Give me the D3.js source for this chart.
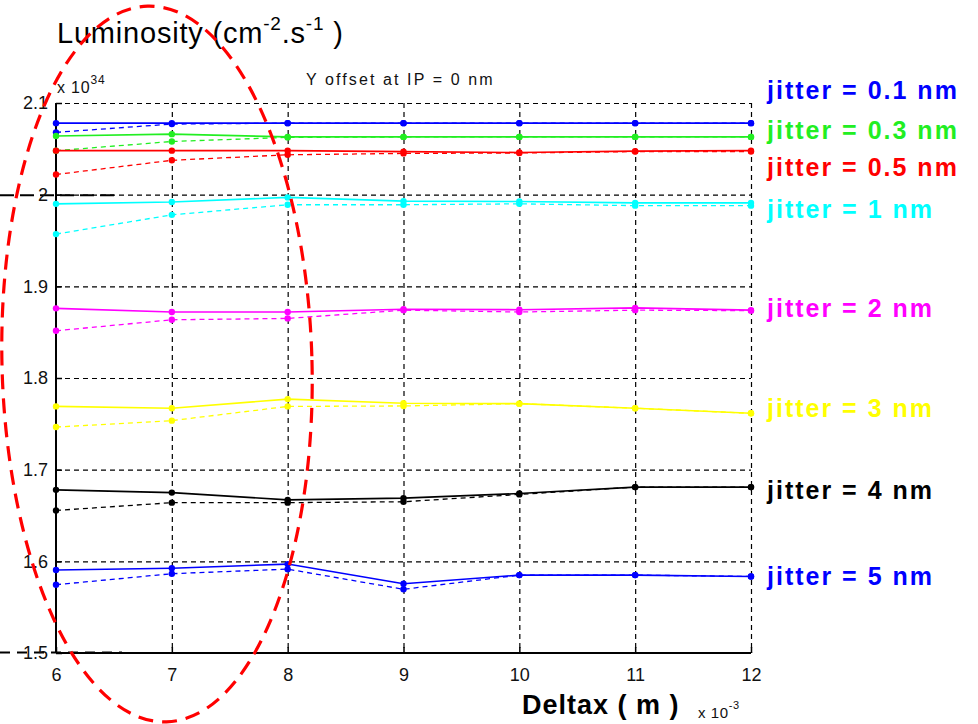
<!DOCTYPE html>
<html><head><meta charset="utf-8">
<script src="https://cdn.jsdelivr.net/npm/d3@7"></script>
<style>body{margin:0;background:#fff}svg{display:block}</style>
</head><body><svg id="c" width="978" height="724"></svg>
<script>
const deltax = [6, 7, 8, 9, 10, 11, 12];
const xTicks = [6, 7, 8, 9, 10, 11, 12];
const yTicks = [1.5, 1.6, 1.7, 1.8, 1.9, 2.0, 2.1];
const yTickLabels = ["1.5", "1.6", "1.7", "1.8", "1.9", "2", "2.1"];
const jitterLabels = ["jitter = 0.1 nm", "jitter = 0.3 nm", "jitter = 0.5 nm", "jitter = 1 nm", "jitter = 2 nm", "jitter = 3 nm", "jitter = 4 nm", "jitter = 5 nm"];
const colors = ["#0000ff", "#22ee22", "#ff0000", "#00ffff", "#ff00ff", "#ffff00", "#000000", "#0000ff"];
// solid lines
const solid = [
  [2.078, 2.078, 2.078, 2.078, 2.078, 2.078, 2.078],
  [2.064, 2.066, 2.063, 2.063, 2.063, 2.063, 2.063],
  [2.048, 2.048, 2.048, 2.047, 2.046, 2.0475, 2.048],
  [1.990, 1.992, 1.997, 1.993, 1.9925, 1.991, 1.991],
  [1.876, 1.872, 1.872, 1.875, 1.8745, 1.8765, 1.874],
  [1.769, 1.767, 1.777, 1.7725, 1.772, 1.767, 1.7615],
  [1.678, 1.675, 1.667, 1.669, 1.674, 1.681, 1.681],
  [1.5905, 1.5925, 1.597, 1.5755, 1.585, 1.585, 1.5835]
];
// dashed lines
const dashed = [
  [2.068, 2.077, 2.078, 2.078, 2.078, 2.078, 2.078],
  [2.048, 2.058, 2.0625, 2.063, 2.063, 2.063, 2.063],
  [2.022, 2.0375, 2.0435, 2.045, 2.0455, 2.047, 2.047],
  [1.957, 1.978, 1.989, 1.989, 1.990, 1.988, 1.988],
  [1.8515, 1.8635, 1.865, 1.874, 1.872, 1.874, 1.8735],
  [1.7465, 1.7535, 1.769, 1.7695, 1.772, 1.767, 1.7615],
  [1.6555, 1.664, 1.664, 1.665, 1.673, 1.681, 1.681],
  [1.5745, 1.5865, 1.5915, 1.5695, 1.585, 1.585, 1.5835]
];
// vertical anchor of each jitter label, in luminosity units
const labelValues = [2.114, 2.0706, 2.030, 1.9844, 1.8764, 1.7674, 1.678, 1.5842];

const svg = d3.select("#c");
const L = 56, R = 751, T = 103, B = 653;
const x = d3.scaleLinear().domain([6, 12]).range([L, R]);
const y = d3.scaleLinear().domain([1.5, 2.1]).range([B, T]);
const font = "'Liberation Sans', Arial, sans-serif";

// grid
const grid = svg.append("g").attr("stroke", "#000").attr("stroke-width", 1.2).attr("stroke-dasharray", "5,4");
grid.selectAll(".gx").data(xTicks.slice(1)).join("line")
  .attr("x1", d => x(d) + 0.5).attr("x2", d => x(d) + 0.5).attr("y1", T).attr("y2", B);
grid.selectAll(".gy").data(yTicks.slice(1)).join("line")
  .attr("x1", L).attr("x2", R).attr("y1", d => y(d) + 0.5).attr("y2", d => y(d) + 0.5);

// stray dashed marks at left
svg.append("line").attr("x1", 0).attr("x2", 117).attr("y1", y(2.0) + 0.5).attr("y2", y(2.0) + 0.5)
  .attr("stroke", "#000").attr("stroke-width", 2).attr("stroke-dasharray", "14,6");
svg.append("line").attr("x1", 0).attr("x2", 122).attr("y1", y(1.5) - 0.5).attr("y2", y(1.5) - 0.5)
  .attr("stroke", "#000").attr("stroke-width", 2).attr("stroke-dasharray", "10,7");

// axes
const xAxis = d3.axisBottom(x).tickValues(xTicks).tickSize(-6).tickPadding(15).tickFormat(d3.format("d"));
const gx = svg.append("g").attr("transform", `translate(0,${B})`).call(xAxis);
gx.select(".domain").attr("stroke-width", 2).attr("d", `M${L},0H${R}`);
gx.selectAll(".tick line").attr("stroke-width", 1.5);
gx.selectAll("text").attr("font-family", font).attr("font-size", 18).attr("fill", "#111");

const yAxis = d3.axisLeft(y).tickValues(yTicks).tickSize(-6).tickPadding(8).tickFormat((d, i) => yTickLabels[i]);
const gy = svg.append("g").attr("transform", `translate(${L},0)`).call(yAxis);
gy.select(".domain").attr("stroke-width", 2).attr("d", `M0,${B}V${T}`);
gy.selectAll(".tick line").attr("stroke-width", 1.5);
gy.selectAll("text").attr("font-family", font).attr("font-size", 18).attr("fill", "#111");

// series
const line = d3.line().x((d, i) => x(deltax[i])).y(d => y(d));
colors.forEach((c, k) => {
  const g = svg.append("g");
  g.append("path").datum(dashed[k]).attr("d", line).attr("fill", "none")
    .attr("stroke", c).attr("stroke-width", 1.3).attr("stroke-dasharray", "5,4");
  g.append("path").datum(solid[k]).attr("d", line).attr("fill", "none")
    .attr("stroke", c).attr("stroke-width", 1.6);
  g.selectAll(".ds").data(dashed[k]).join("circle")
    .attr("cx", (d, i) => x(deltax[i])).attr("cy", d => y(d)).attr("r", 3.2).attr("fill", c);
  g.selectAll(".ss").data(solid[k]).join("circle")
    .attr("cx", (d, i) => x(deltax[i])).attr("cy", d => y(d)).attr("r", 3.2).attr("fill", c);
});

// legend labels
svg.selectAll(".lab").data(jitterLabels).join("text")
  .attr("x", 767).attr("y", (d, i) => y(labelValues[i]))
  .attr("dy", "0.35em")
  .attr("font-family", font).attr("font-weight", "bold").attr("font-size", 25)
  .attr("letter-spacing", 2)
  .attr("fill", (d, i) => colors[i]).text(d => d);

// title
const t = svg.append("text").attr("x", 57).attr("y", 43).attr("font-family", font).attr("font-size", 29)
  .attr("letter-spacing", 0.8).attr("fill", "#000");
t.append("tspan").text("Luminosity (cm");
t.append("tspan").attr("dy", -13).attr("font-size", 19).text("-2");
t.append("tspan").attr("dy", 13).text(".s");
t.append("tspan").attr("dy", -13).attr("font-size", 19).text("-1");
t.append("tspan").attr("dy", 13).text(" )");

const s = svg.append("text").attr("x", 57).attr("y", 93).attr("font-family", font).attr("font-size", 16).attr("letter-spacing", 0.8).attr("fill", "#111");
s.append("tspan").text("x 10");
s.append("tspan").attr("dy", -9).attr("font-size", 12).text("34");

svg.append("text").attr("x", 306).attr("y", 85).attr("font-family", font).attr("font-size", 16)
  .attr("letter-spacing", 2.1).attr("fill", "#111")
  .text("Y offset at IP = 0 nm");

svg.append("text").attr("x", 522).attr("y", 714).attr("font-family", font).attr("font-weight", "bold")
  .attr("font-size", 27).attr("letter-spacing", 1).attr("fill", "#000")
  .text("Deltax ( m )");
const xs = svg.append("text").attr("x", 698).attr("y", 718).attr("font-family", font).attr("font-size", 15).attr("letter-spacing", 0.6).attr("fill", "#111");
xs.append("tspan").text("x 10");
xs.append("tspan").attr("dy", -9).attr("font-size", 11).text("-3");

// red dashed ellipse annotation
svg.append("ellipse").attr("cx", 157).attr("cy", 364).attr("rx", 155).attr("ry", 358)
  .attr("fill", "none").attr("stroke", "#ff0000").attr("stroke-width", 3.2).attr("stroke-dasharray", "15,9")
  .attr("transform", "rotate(-1.5 157 364)");
</script></body></html>
